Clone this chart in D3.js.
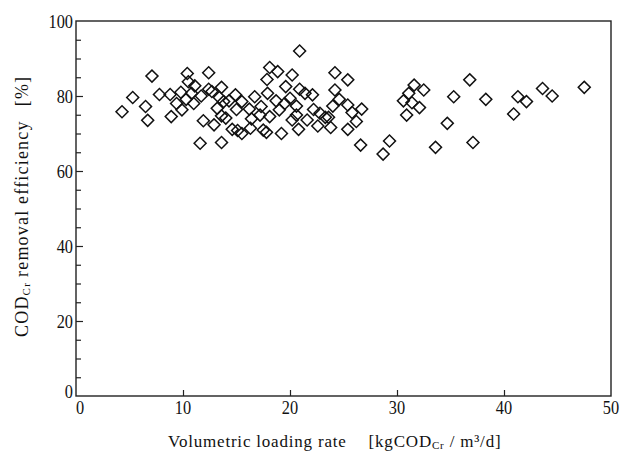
<!DOCTYPE html>
<html>
<head>
<meta charset="utf-8">
<script src="https://cdn.jsdelivr.net/npm/d3@7"></script>
<style>
  body { margin: 0; background: #fff; }
  text { font-family: "Liberation Serif", "DejaVu Serif", serif; fill: #111; }
</style>
</head>
<body>
<div id="chart"></div>
<script>
// loading rate [kgCODcr/m3/d]
const loadRate = [
  4.3, 5.3, 7.1, 6.5, 6.7, 7.8, 8.8, 8.9, 9.4, 9.9, 9.8, 10.4, 10.5, 10.3, 11.1, 10.8,
  11.0, 11.7, 12.4, 12.4, 12.7, 11.9, 11.6, 13.6, 13.6, 13.4, 13.2, 13.8, 13.6, 12.9,
  14.0, 14.3, 14.9, 15.0, 14.6, 15.5, 15.5, 20.9, 18.1, 18.85, 20.2, 17.85, 17.9, 16.7,
  16.2, 17.3, 16.4, 17.2, 18.1, 18.7, 19.0, 19.6, 19.5, 20.0, 20.6, 20.9, 21.4, 22.1,
  20.6, 20.2, 20.8, 21.6, 22.2, 22.8, 22.6, 23.3, 23.6, 23.8, 24.2, 25.4, 24.2, 24.6,
  24.0, 25.4, 25.8, 26.7, 26.2, 25.4, 26.6, 28.7, 19.2, 17.8, 17.5, 16.3, 15.1,
  31.6, 32.5, 31.1, 30.6, 31.4, 32.1, 30.9, 29.3, 33.6, 34.7, 35.3, 36.8, 37.1, 38.3,
  40.9, 41.3, 42.1, 43.6, 44.5, 47.5
];
// CODcr removal efficiency [%]
const removal = [
  75.8, 79.6, 85.3, 77.2, 73.5, 80.4, 80.4, 74.5, 78.0, 76.3, 81.0, 86.0, 83.8, 79.1, 82.7, 80.7,
  78.0, 80.0, 86.2, 81.8, 81.2, 73.4, 67.4, 67.6, 82.3, 79.6, 76.7, 78.5, 74.7, 72.3,
  74.1, 78.7, 80.3, 76.4, 71.1, 78.5, 70.0, 92.0, 87.6, 86.5, 85.6, 84.4, 80.7, 79.8,
  76.5, 77.2, 73.9, 74.9, 74.5, 78.7, 76.3, 82.5, 78.0, 79.4, 77.3, 81.8, 80.7, 80.3,
  74.9, 73.6, 71.1, 73.6, 76.4, 75.4, 72.0, 74.3, 74.3, 71.6, 86.2, 84.3, 81.6, 79.1,
  77.3, 77.6, 75.6, 76.5, 73.2, 71.1, 66.9, 64.5, 70.0, 70.3, 70.9, 71.4, 70.8,
  82.9, 81.6, 80.7, 78.7, 78.2, 76.9, 74.9, 68.0, 66.3, 72.7, 79.8, 84.3, 67.6, 79.1,
  75.2, 79.8, 78.5, 82.0, 80.0, 82.3
];
const xTicks = [0, 10, 20, 30, 40, 50];
const yTicks = [0, 20, 40, 60, 80, 100];

const width = 631, height = 460;
const margin = { top: 21, right: 20, bottom: 64, left: 76 };

const svg = d3.select('#chart').append('svg')
  .attr('width', width).attr('height', height);

const x = d3.scaleLinear().domain([0, 50]).range([margin.left, width - margin.right]);
const y = d3.scaleLinear().domain([0, 100]).range([height - margin.bottom, margin.top]);

const ink = '#222';

// frame
svg.append('rect')
  .attr('x', x(0)).attr('y', y(100))
  .attr('width', x(50) - x(0)).attr('height', y(0) - y(100))
  .attr('fill', 'none').attr('stroke', ink).attr('stroke-width', 1.4);

// inward ticks on y axis (every 5)
const yAx = d3.axisLeft(y).tickValues(d3.range(5, 100, 5))
  .tickSizeInner(0).tickSizeOuter(0).tickFormat('');
const gy = svg.append('g').attr('transform', `translate(${x(0)},0)`).call(yAx);
gy.select('.domain').remove();
gy.selectAll('.tick line')
  .attr('x2', d => (d % 20 === 0 ? 7 : 5))
  .attr('stroke', ink).attr('stroke-width', 1.2);

// inward ticks on x axis
const xAx = d3.axisBottom(x).tickValues([10, 20, 30, 40])
  .tickSizeInner(0).tickSizeOuter(0).tickFormat('');
const gx = svg.append('g').attr('transform', `translate(0,${y(0)})`).call(xAx);
gx.select('.domain').remove();
gx.selectAll('.tick line').attr('y2', -6).attr('stroke', ink).attr('stroke-width', 1.2);

// tick labels (narrow serif digits)
const sx = 0.86;
svg.append('g').selectAll('text').data(yTicks.filter(d => d > 0)).join('text')
  .attr('transform', d => `translate(${x(0) - 3},${y(d) + 6.5}) scale(${sx},1)`)
  .attr('text-anchor', 'end').attr('font-size', 19)
  .text(d => d);
svg.append('text')
  .attr('transform', `translate(${x(0) - 3},${y(0) + 2}) scale(${sx},1)`)
  .attr('text-anchor', 'end').attr('font-size', 19).text(0);

svg.append('g').selectAll('text').data(xTicks).join('text')
  .attr('transform', d => `translate(${x(d) + (d === 0 ? 4 : 0)},${y(0) + 18}) scale(${sx},1)`)
  .attr('text-anchor', 'middle').attr('font-size', 19)
  .text(d => d);

// axis titles
const xt = svg.append('text')
  .attr('x', 168).attr('y', 447).attr('font-size', 17)
  .attr('letter-spacing', 0.8);
xt.append('tspan').text('Volumetric loading rate');
xt.append('tspan').attr('dx', 22).text('[kgCOD');
xt.append('tspan').attr('font-size', 11).attr('dy', 2).text('Cr');
xt.append('tspan').attr('dy', -2).text(' / m³/d]');

const yt = svg.append('text')
  .attr('transform', 'translate(28,337) rotate(-90)').attr('font-size', 18)
  .attr('letter-spacing', 1.2);
yt.append('tspan').text('COD');
yt.append('tspan').attr('font-size', 11).attr('dy', 2).text('Cr');
yt.append('tspan').attr('dy', -2).attr('dx', 5).text('removal efficiency');
yt.append('tspan').attr('dx', 14).text('[%]');

// points
const diamond = d3.symbol().type(d3.symbolSquare).size(72);
svg.append('g').selectAll('path').data(loadRate.map((v, i) => [v, removal[i]])).join('path')
  .attr('d', diamond)
  .attr('transform', d => `translate(${x(d[0])},${y(d[1])}) rotate(45)`)
  .attr('fill', 'none').attr('stroke', '#111').attr('stroke-width', 1.5);
</script>
</body>
</html>
